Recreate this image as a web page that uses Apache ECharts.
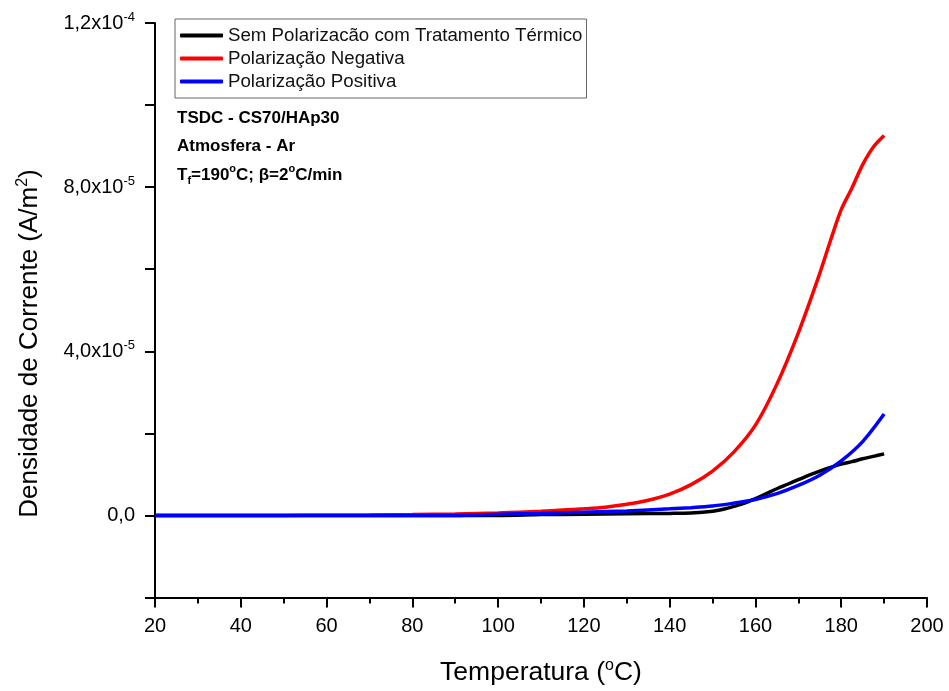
<!DOCTYPE html>
<html>
<head>
<meta charset="utf-8">
<script src="https://cdn.jsdelivr.net/npm/echarts@6/dist/echarts.min.js"></script>
<style>html,body{margin:0;padding:0;background:#fff;}#c{width:949px;height:691px;}</style>
</head>
<body>
<div id="c"></div>
<script>
// Temperature (°C) and current density (A/m²)
const tempBlack = [20,30,40,50,60,70,80,90,100,110,120,130,140,145,150,152.5,155,157.5,160,162.5,165,167.5,170,172.5,175,177.5,180,182.5,185,187.5,190];
const valBlack  = [0,0,0,0,0,0,0,0,0,0.2e-6,0.3e-6,0.4e-6,0.5e-6,0.6e-6,1.0e-6,1.5e-6,2.2e-6,3.0e-6,4.1e-6,5.3e-6,6.5e-6,7.6e-6,8.7e-6,9.8e-6,1.08e-5,1.17e-5,1.25e-5,1.31e-5,1.38e-5,1.44e-5,1.50e-5];

const tempRed = [20,30,40,50,60,70,80,90,100,105,110,115,120,125,130,135,140,145,150,155,160,165,170,175,177.5,180,182.5,185,187.5,190];
const valRed  = [0,0,0,0,0.05e-6,0.1e-6,0.2e-6,0.35e-6,0.6e-6,0.8e-6,1.0e-6,1.3e-6,1.6e-6,2.0e-6,2.7e-6,3.7e-6,5.2e-6,7.5e-6,1.08e-5,1.55e-5,2.2e-5,3.2e-5,4.45e-5,5.9e-5,6.7e-5,7.45e-5,7.98e-5,8.55e-5,8.98e-5,9.26e-5];

const tempBlue = [20,30,40,50,60,70,80,90,100,110,120,130,140,145,150,155,160,165,170,175,180,185,190];
const valBlue  = [0,0,0,0,0,0,0,0,0.3e-6,0.5e-6,0.8e-6,1.1e-6,1.6e-6,1.9e-6,2.3e-6,3.0e-6,3.9e-6,5.3e-6,7.3e-6,9.8e-6,1.33e-5,1.80e-5,2.47e-5];

const seriesNames = ['Sem Polarizacão com Tratamento Térmico','Polarização Negativa','Polarização Positiva'];
const yTickValues = [0, 4e-5, 8e-5, 1.2e-4];
const yTickLabels = ['0,0', '4,0x10{s|-5}', '8,0x10{s|-5}', '1,2x10{s|-4}'];

const FONT = "'Liberation Sans', Arial, sans-serif";
const BOLD17 = "bold 17px 'Liberation Sans', Arial, sans-serif";
const SUPB = "bold 11px 'Liberation Sans', Arial, sans-serif";
function pairs(xs, ys){ return xs.map((x,i)=>[x, ys[i]]); }

const chart = echarts.init(document.getElementById('c'), null, {renderer:'canvas'});
chart.setOption({
  backgroundColor: '#fff',
  animation: false,
  grid: {left:155, right:22, top:23, bottom:90, containLabel:false},
  legend: {
    orient: 'vertical', left: 175, top: 19,
    padding: [7, 4, 7, 5],
    itemGap: 4, itemWidth: 43, itemHeight: 4,
    icon: 'roundRect',
    borderColor: '#666', borderWidth: 1, borderRadius: 0,
    textStyle: {fontFamily: FONT, fontSize: 18.7, lineHeight: 19, color: '#111', padding:[0,0,0,0]},
    data: seriesNames
  },
  xAxis: {
    type: 'value', min: 20, max: 200, interval: 20,
    axisLine: {show:true, onZero:false, lineStyle:{color:'#000', width:2}},
    axisTick: {show:true, length:10, lineStyle:{color:'#000', width:2}},
    minorTick: {show:true, splitNumber:2, length:6, lineStyle:{color:'#000', width:2}},
    splitLine: {show:false},
    axisLabel: {fontFamily: FONT, fontSize: 20, color:'#000', margin: 19},
    name: 'Temperatura ({s|o}C)',
    nameLocation: 'middle', nameGap: 60,
    nameTextStyle: {fontFamily: FONT, fontSize: 26.5, color:'#000', verticalAlign:'top',
      rich: {s:{fontFamily: FONT, fontSize: 16, color:'#000', verticalAlign:'top', padding:[0,0,14,0]}}}
  },
  yAxis: {
    type: 'value', min: -2e-5, max: 1.2e-4, interval: 2e-5,
    axisLine: {show:true, onZero:false, lineStyle:{color:'#000', width:2}},
    axisTick: {show:true, length:10, lineStyle:{color:'#000', width:2}},
    splitLine: {show:false},
    axisLabel: {
      fontFamily: FONT, fontSize: 20, color:'#000', margin: 20,
      formatter: function(v){
        for (let i=0;i<yTickValues.length;i++){
          if (Math.abs(v - yTickValues[i]) < 1e-9) return yTickLabels[i];
        }
        return '';
      },
      rich: {s:{fontFamily: FONT, fontSize: 13, color:'#000', verticalAlign:'top', padding:[0,0,12,0]}}
    }
  },
  graphic: [
    {type:'text', x:177, y:118.5, style:{text:'TSDC - CS70/HAp30', font:BOLD17, fill:'#000', verticalAlign:'middle'}},
    {type:'text', x:177, y:146.5, style:{text:'Atmosfera - Ar', font:BOLD17, fill:'#000', verticalAlign:'middle'}},
    {type:'text', x:177, y:175, style:{
      text:'T{sub|f}=190{sup|o}C; β=2{sup|o}C/min', font:BOLD17, fill:'#000', verticalAlign:'middle',
      rich:{
        sub:{font:SUPB, fill:'#000', verticalAlign:'bottom', padding:[12,0,0,0]},
        sup:{font:SUPB, fill:'#000', verticalAlign:'top', padding:[0,0,12,0]}
      }}},
    {type:'text', x:30, y:343.5, rotation: Math.PI/2, style:{
      text:'Densidade de Corrente (A/m{s|2})', font:"26px 'Liberation Sans', Arial, sans-serif", fill:'#000',
      align:'center', verticalAlign:'middle',
      rich:{s:{font:"16px 'Liberation Sans', Arial, sans-serif", fill:'#000', verticalAlign:'top', padding:[0,0,14,0]}}
    }}
  ],
  series: [
    {name: seriesNames[0], type:'line', data: pairs(tempBlack, valBlack), showSymbol:false, smooth:0.3,
     lineStyle:{color:'#000', width:3.5}, itemStyle:{color:'#000'}},
    {name: seriesNames[1], type:'line', data: pairs(tempRed, valRed), showSymbol:false, smooth:0.3,
     lineStyle:{color:'#ff0000', width:3.5}, itemStyle:{color:'#ff0000'}},
    {name: seriesNames[2], type:'line', data: pairs(tempBlue, valBlue), showSymbol:false, smooth:0.3,
     lineStyle:{color:'#0000ff', width:3.5}, itemStyle:{color:'#0000ff'}}
  ]
});
</script>
</body>
</html>
